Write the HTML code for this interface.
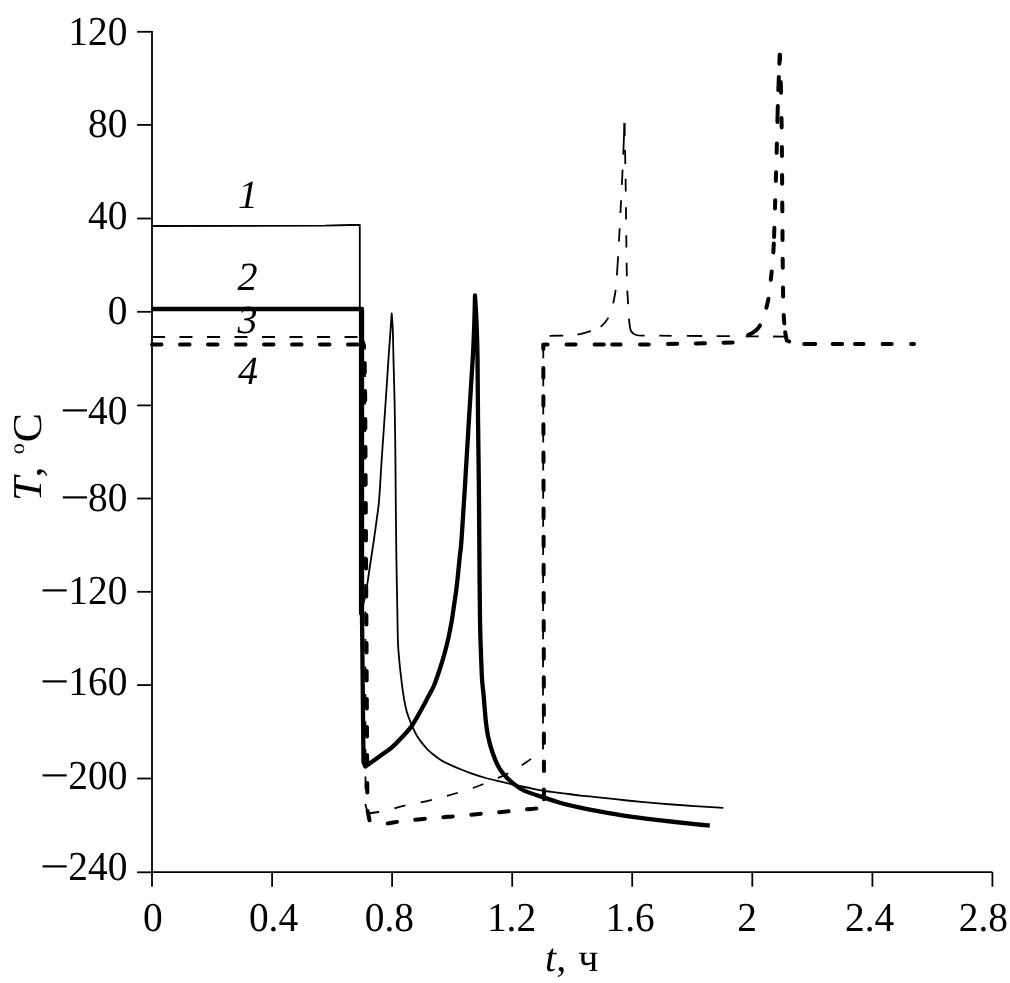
<!DOCTYPE html>
<html><head><meta charset="utf-8"><title>T vs t</title>
<style>html,body{margin:0;padding:0;background:#fff;}svg{display:block;text-rendering:geometricPrecision;}</style>
</head><body>
<svg width="1010" height="983" viewBox="0 0 1010 983">
<rect width="1010" height="983" fill="#fff"/>

<g fill="none" stroke="#000" stroke-width="1.8">
<path d="M152 30.9 V872.2 H992.4"/>
<path d="M137.1 31.8 H152"/>
<path d="M137.1 124.9 H152"/>
<path d="M137.1 218.5 H152"/>
<path d="M137.1 311.8 H152"/>
<path d="M137.1 405.4 H152"/>
<path d="M137.1 498.5 H152"/>
<path d="M137.1 591.8 H152"/>
<path d="M137.1 685.1 H152"/>
<path d="M137.1 778.5 H152"/>
<path d="M137.1 872.3 H152"/>
<path d="M152.0 872.2 V886.7"/>
<path d="M272.1 872.2 V886.7"/>
<path d="M392.1 872.2 V886.7"/>
<path d="M512.2 872.2 V886.7"/>
<path d="M632.2 872.2 V886.7"/>
<path d="M752.3 872.2 V886.7"/>
<path d="M872.4 872.2 V886.7"/>
<path d="M992.4 872.2 V886.7"/>
</g>
<g font-family="'Liberation Serif', 'Times New Roman', serif" font-size="40" fill="#000">
<text transform="translate(127.4 44.78) scale(0.985 1.025)" text-anchor="end">120</text>
<text transform="translate(127.4 136.93) scale(0.985 1.025)" text-anchor="end">80</text>
<text transform="translate(127.4 229.03) scale(0.985 1.025)" text-anchor="end">40</text>
<text transform="translate(127.4 323.83) scale(0.985 1.025)" text-anchor="end">0</text>
<text transform="translate(127.4 423.68) scale(0.985 1.025)" text-anchor="end">40</text>
<text transform="translate(60.21 424.58) scale(1.297 1.1)">&#8722;</text>
<text transform="translate(127.4 510.93) scale(0.985 1.025)" text-anchor="end">80</text>
<text transform="translate(60.21 511.83) scale(1.297 1.1)">&#8722;</text>
<text transform="translate(127.4 604.08) scale(0.985 1.025)" text-anchor="end">120</text>
<text transform="translate(40.11 604.98) scale(1.297 1.1)">&#8722;</text>
<text transform="translate(127.4 695.28) scale(0.985 1.025)" text-anchor="end">160</text>
<text transform="translate(40.11 696.18) scale(1.297 1.1)">&#8722;</text>
<text transform="translate(127.4 788.73) scale(0.985 1.025)" text-anchor="end">200</text>
<text transform="translate(40.11 789.63) scale(1.297 1.1)">&#8722;</text>
<text transform="translate(127.4 879.93) scale(0.985 1.025)" text-anchor="end">240</text>
<text transform="translate(40.11 880.83) scale(1.297 1.1)">&#8722;</text>
<text transform="translate(142.90 930.6) scale(0.985 1.025)">0</text>
<text transform="translate(248.91 930.6) scale(0.985 1.025)">0.4</text>
<text transform="translate(364.82 930.6) scale(0.985 1.025)">0.8</text>
<text transform="translate(486.91 930.6) scale(0.985 1.025)">1.2</text>
<text transform="translate(605.52 930.6) scale(0.985 1.025)">1.6</text>
<text transform="translate(737.25 930.6) scale(0.985 1.025)">2</text>
<text transform="translate(844.93 930.6) scale(0.985 1.025)">2.4</text>
<text transform="translate(958.70 930.6) scale(0.985 1.025)">2.8</text>
<text x="545" y="970.5"><tspan font-style="italic">t</tspan>,<tspan dx="2"> ч</tspan></text>
<text transform="translate(41.1 501.3) rotate(-90) scale(1.07 1)" font-size="41"><tspan font-style="italic">T</tspan><tspan dx="-0.5">,</tspan> <tspan font-size="20.5" dx="1.1" dy="-17.5">o</tspan><tspan dx="1.1" dy="17.5">C</tspan></text>
<text x="237.9" y="207.7" font-style="italic">1</text>
<text x="237.4" y="289.9" font-style="italic">2</text>
<text x="237.4" y="333.2" font-style="italic">3</text>
<text x="238.1" y="383.9" font-style="italic">4</text>
</g>
<g fill="none" stroke="#000" stroke-linejoin="round">
<path d="M152 226 L325 225.7 L350 225 L359.8 224.8 L359.8 614 C362.25 609.55 364.97 597.57 366.00 592.30 C367.03 587.03 366.92 586.62 367.70 581.40 C368.48 576.18 369.68 567.78 370.70 561.00 C371.72 554.22 372.82 547.48 373.80 540.70 C374.78 533.92 375.72 527.08 376.60 520.30 C377.48 513.52 378.23 510.38 379.10 500.00 C379.97 489.62 380.77 473.50 381.80 458.00 C382.83 442.50 384.15 424.05 385.30 407.00 C386.45 389.95 387.83 368.45 388.70 355.70 C389.57 342.95 390.00 337.53 390.50 330.50 C391.00 323.47 391.50 316.33 391.70 313.50 C391.88 316.25 392.50 322.25 392.80 330.00 C393.10 337.75 393.18 347.17 393.50 360.00 C393.82 372.83 394.38 390.67 394.70 407.00 C395.02 423.33 395.22 441.67 395.40 458.00 C395.58 474.33 395.63 488.00 395.80 505.00 C395.97 522.00 396.18 544.73 396.40 560.00 C396.62 575.27 396.85 583.27 397.10 596.60 C397.35 609.93 397.57 629.72 397.90 640.00 C398.23 650.28 398.58 652.20 399.10 658.30 C399.62 664.40 400.28 670.50 401.00 676.60 C401.72 682.70 402.48 689.22 403.40 694.90 C404.32 700.58 405.18 705.83 406.50 710.70 C407.82 715.57 409.38 719.62 411.30 724.10 C413.22 728.58 415.45 733.53 418.00 737.60 C420.55 741.67 424.27 745.85 426.60 748.50 C428.93 751.15 429.65 751.58 432.00 753.50 C434.35 755.42 437.55 758.07 440.70 760.00 C443.85 761.93 447.50 763.52 450.90 765.10 C454.30 766.68 457.72 768.13 461.10 769.50 C464.48 770.87 467.35 771.97 471.20 773.30 C475.05 774.63 479.65 776.18 484.20 777.50 C488.75 778.82 493.75 780.03 498.50 781.20 C503.25 782.37 507.95 783.45 512.70 784.50 C517.45 785.55 521.62 786.42 527.00 787.50 C532.38 788.58 539.50 790.12 545.00 791.00 C550.50 791.88 554.17 792.03 560.00 792.80 C565.83 793.57 574.38 794.93 580.00 795.60 C585.62 796.27 585.82 795.98 593.70 796.80 C601.58 797.62 616.08 799.37 627.30 800.50 C638.52 801.63 649.77 802.67 661.00 803.60 C672.23 804.53 684.32 805.40 694.70 806.10 C705.08 806.80 718.53 807.52 723.30 807.80" stroke-width="1.8"/>
<path d="M152 337 L362 337" stroke-width="1.8" stroke-dasharray="13 14.5" stroke-dashoffset="0"/>
<path d="M362 337 L365 345 L365.5 805 L367.9 813.5" stroke-width="1.8" stroke-dasharray="13 14.5" stroke-dashoffset="0"/>
<path d="M367.9 813.5 C369.68 813.25 374.38 812.82 378.60 812.00 C382.82 811.18 388.72 809.70 393.20 808.60 C397.68 807.50 400.97 806.43 405.50 805.40 C410.03 804.37 415.77 803.38 420.40 802.40 C425.03 801.42 428.73 800.62 433.30 799.50 C437.87 798.38 443.35 796.93 447.80 795.70 C452.25 794.47 455.58 793.47 460.00 792.10 C464.42 790.73 469.90 789.05 474.30 787.50 C478.70 785.95 482.02 784.57 486.40 782.80 C490.78 781.03 496.10 778.95 500.60 776.90 C505.10 774.85 509.12 772.93 513.40 770.50 C517.68 768.07 522.37 764.98 526.30 762.30 C530.23 759.62 534.22 756.53 537.00 754.40 C539.78 752.27 542.00 750.32 543.00 749.50" stroke-width="1.8" stroke-dasharray="11.5 15.5" stroke-dashoffset="0"/>
<path d="M543.3 336 L543 749.5" stroke-width="1.8" stroke-dasharray="13 15.1" stroke-dashoffset="18.9"/>
<path d="M543.3 336 L563 335.5 C565.42 335.33 572.87 335.25 577.50 334.50 C582.13 333.75 587.05 332.18 590.80 331.00 C594.55 329.82 597.03 329.68 600.00 327.40 C602.97 325.12 606.35 321.53 608.60 317.30 C610.85 313.07 612.10 309.22 613.50 302.00 C614.90 294.78 615.57 294.33 617.00 274.00 C618.43 253.67 620.85 205.17 622.10 180.00 C623.35 154.83 624.10 132.50 624.50 123.00" stroke-width="1.8" stroke-dasharray="13.70 14.24 13.77 10.85 12.05 15.23 13.52 14.76 19.14 14.62 13.32 15.02 12.92 15.22 15.22 15.01 32.01 323.21" stroke-dashoffset="-6.302028841809448"/>
<path d="M624.5 123 C624.68 132.50 625.22 154.83 625.60 180.00 C625.98 205.17 626.40 253.67 626.80 274.00 C627.20 294.33 627.62 294.33 628.00 302.00 C628.38 309.67 628.60 315.17 629.10 320.00 C629.60 324.83 629.82 328.50 631.00 331.00 C632.18 333.50 634.03 334.23 636.20 335.00 C638.37 335.77 642.70 335.50 644.00 335.60 L785 336.6" stroke-width="1.8" stroke-dasharray="13.00 14.00 14.00 14.80 12.80 15.80 12.30 15.60 12.00 15.30 13.40 14.61 13.32 14.73 27.85 14.50 12.50 15.20 15.30 14.50 13.20 15.80 12.90 14.50 11.00 413.93" stroke-dashoffset="-0.0"/>
<path d="M152 344.5 L362 344.5" stroke-width="4" stroke-linecap="round" stroke-dasharray="9.5 18.5" stroke-dashoffset="0"/>
<path d="M369.9 822.2 L367.4 810 L365.2 400 L364.5 350 L362 344.5" stroke-width="4" stroke-linecap="round" stroke-dasharray="9.5 18.5" stroke-dashoffset="26"/>
<path d="M369.9 822.2 C372.53 822.43 381.00 823.68 385.70 823.60 C390.40 823.52 393.47 822.32 398.10 821.70 C402.73 821.08 407.80 820.48 413.50 819.90 C419.20 819.32 426.53 818.72 432.30 818.20 C438.07 817.68 443.57 817.17 448.10 816.80 C452.63 816.43 454.78 816.43 459.50 816.00 C464.22 815.57 471.65 814.67 476.40 814.20 C481.15 813.73 483.37 813.60 488.00 813.20 C492.63 812.80 499.48 812.28 504.20 811.80 C508.92 811.32 511.67 810.78 516.30 810.30 C520.93 809.82 527.38 809.37 532.00 808.90 C536.62 808.43 542.00 807.73 544.00 807.50" stroke-width="4" stroke-linecap="round" stroke-dasharray="9.5 18.5" stroke-dashoffset="10.2"/>
<path d="M543.3 344.6 L544 807.5" stroke-width="4" stroke-linecap="round" stroke-dasharray="4.3 19.2 9.6 18.5 9.6 18.5 9.6 18.5 9.6 18.5 9.6 18.5 9.6 18.5 9.6 18.5 9.6 18.5 9.6 18.5 9.6 18.5 9.6 18.5 9.6 18.5 9.6 18.5 9.6 18.5 9.6 18.5 9.6 18.5 9.6 18.5" stroke-dashoffset="0"/>
<path d="M543.3 344.6 L650 344.4 L735 342.5 C736.92 341.47 742.43 338.97 746.50 336.30 C750.57 333.63 755.88 332.10 759.40 326.50 C762.92 320.90 765.62 311.28 767.60 302.70 C769.58 294.12 770.32 283.85 771.30 275.00 C772.28 266.15 772.88 260.85 773.50 249.60 C774.12 238.35 774.47 224.10 775.00 207.50 C775.53 190.90 776.20 167.92 776.70 150.00 C777.20 132.08 777.48 116.17 778.00 100.00 C778.52 83.83 779.50 60.83 779.80 53.00" stroke-width="4" stroke-linecap="round" stroke-dasharray="2.30 18.90 9.10 19.00 9.20 8.40 8.40 19.40 8.80 19.20 9.20 18.60 9.20 18.50 9.20 17.37 15.74 18.72 9.33 18.81 8.27 19.56 9.02 6.40 9.11 19.41 8.31 19.11 8.71 19.31 9.20 21.81 16.01 16.01 13.01 13.01 9.01 548.64" stroke-dashoffset="-2.0"/>
<path d="M779.8 53 C780.03 60.83 780.85 83.83 781.20 100.00 C781.55 116.17 781.72 132.17 781.90 150.00 C782.08 167.83 782.08 182.00 782.30 207.00 C782.52 232.00 782.75 279.50 783.20 300.00 C783.65 320.50 784.40 323.25 785.00 330.00 C785.60 336.75 786.50 338.75 786.80 340.50 L795 344 L916 344" stroke-width="4" stroke-linecap="round" stroke-dasharray="5.00 22.01 10.61 25.40 9.60 19.40 9.00 19.00 9.00 18.60 9.00 19.40 9.10 18.70 9.00 19.50 9.00 18.71 8.24 8.82 11.25 15.53 11.00 17.50 9.50 12.70 8.70 19.00 9.10 19.40 2.90 469.68" stroke-dashoffset="-2.0"/>
<path d="M152 309 L362 309 L362 615 L363.5 762 L365.3 766.5 C367.42 765.00 373.57 760.68 378.00 757.50 C382.43 754.32 387.87 750.82 391.90 747.40 C395.93 743.98 398.97 740.47 402.20 737.00 C405.43 733.53 408.67 730.17 411.30 726.60 C413.93 723.03 415.87 719.27 418.00 715.60 C420.13 711.93 422.43 707.70 424.10 704.60 C425.77 701.50 426.38 700.10 428.00 697.00 C429.62 693.90 431.88 690.50 433.80 686.00 C435.72 681.50 437.73 675.33 439.50 670.00 C441.27 664.67 442.90 659.40 444.40 654.00 C445.90 648.60 447.28 643.10 448.50 637.60 C449.72 632.10 450.77 626.43 451.70 621.00 C452.63 615.57 453.32 610.33 454.10 605.00 C454.88 599.67 455.72 594.42 456.40 589.00 C457.08 583.58 457.63 578.00 458.20 572.50 C458.77 567.00 459.25 561.42 459.80 556.00 C460.35 550.58 460.58 552.60 461.50 540.00 C462.42 527.40 464.03 500.92 465.30 480.40 C466.57 459.88 467.83 437.63 469.10 416.90 C470.37 396.17 472.02 372.15 472.90 356.00 C473.78 339.85 474.05 330.08 474.40 320.00 C474.75 309.92 474.90 299.58 475.00 295.50 C475.23 299.58 475.98 309.92 476.40 320.00 C476.82 330.08 477.23 339.83 477.50 356.00 C477.77 372.17 477.78 396.33 478.00 417.00 C478.22 437.67 478.58 459.50 478.80 480.00 C479.02 500.50 479.10 516.67 479.30 540.00 C479.50 563.33 479.68 600.00 480.00 620.00 C480.32 640.00 480.85 650.00 481.20 660.00 C481.55 670.00 481.72 674.30 482.10 680.00 C482.48 685.70 483.07 689.45 483.50 694.20 C483.93 698.95 484.28 703.75 484.70 708.50 C485.12 713.25 485.42 717.95 486.00 722.70 C486.58 727.45 487.18 732.25 488.20 737.00 C489.22 741.75 490.50 746.45 492.10 751.20 C493.70 755.95 495.90 761.70 497.80 765.50 C499.70 769.30 501.02 771.08 503.50 774.00 C505.98 776.92 509.27 780.23 512.70 783.00 C516.13 785.77 518.72 788.12 524.10 790.60 C529.48 793.08 539.02 795.87 545.00 797.90 C550.98 799.93 554.70 801.30 560.00 802.80 C565.30 804.30 571.18 805.65 576.80 806.90 C582.42 808.15 585.28 808.75 593.70 810.30 C602.12 811.85 616.08 814.52 627.30 816.20 C638.52 817.88 649.77 819.08 661.00 820.40 C672.23 821.72 686.57 823.25 694.70 824.10 C702.83 824.95 707.28 825.27 709.80 825.50" stroke-width="4.3"/>
</g>
</svg>
</body></html>
